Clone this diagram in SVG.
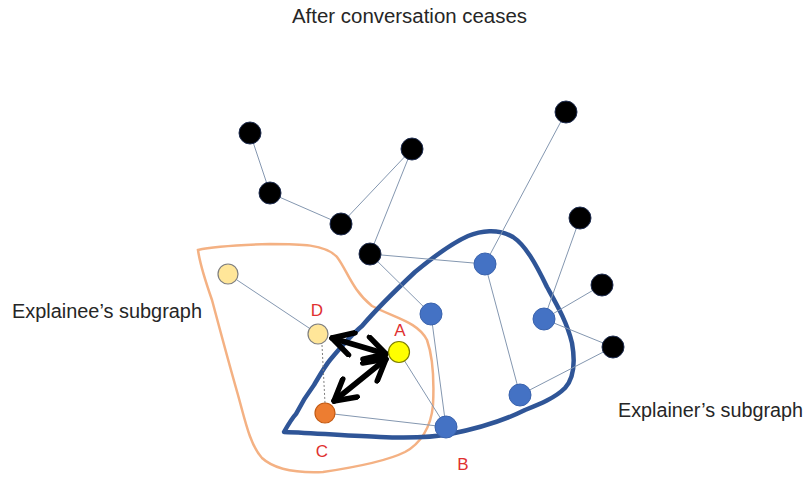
<svg xmlns="http://www.w3.org/2000/svg" width="812" height="477" viewBox="0 0 812 477">
  <style>
    .edge { stroke: #8497B0; stroke-width: 1; fill: none; }
    .dot { stroke: #7F7F7F; stroke-width: 1; stroke-dasharray: 2 2; fill: none; }
    .black { fill: #000000; stroke: #1F2D50; stroke-width: 1; }
    .blue { fill: #4472C4; stroke: #3A63AD; stroke-width: 1; }
    .pale { fill: #FFE699; stroke: #7F7F7F; stroke-width: 1.2; }
    .yellow { fill: #FFFF00; stroke: #7F7F00; stroke-width: 1.2; }
    .orange { fill: #ED7D31; stroke: #C55A11; stroke-width: 1.2; }
    .caption { font-family: "Liberation Sans", Arial, sans-serif; font-size: 20px; fill: #262626; }
    .label { font-family: "Liberation Sans", Arial, sans-serif; font-size: 17px; fill: #E03030; text-anchor: middle; }
    .arrow { stroke: #000000; stroke-width: 5.5; fill: none; stroke-linecap: round; marker-start: url(#head); marker-end: url(#head); }
  </style>
  <defs>
    <marker id="head" viewBox="0 0 10 10" refX="9" refY="5" markerWidth="5" markerHeight="5" orient="auto-start-reverse" markerUnits="strokeWidth">
      <path d="M1.5,0.8 L9,5 L1.5,9.2" fill="none" stroke="#000000" stroke-width="2" stroke-linecap="round" stroke-linejoin="round"/>
    </marker>
  </defs>

  <rect width="812" height="477" fill="#FFFFFF"/>

  <text class="caption" x="292" y="23" textLength="235" lengthAdjust="spacingAndGlyphs">After conversation ceases</text>
  <text class="caption" x="12" y="318" textLength="190" lengthAdjust="spacingAndGlyphs">Explainee’s subgraph</text>
  <text class="caption" x="618" y="417" textLength="185" lengthAdjust="spacingAndGlyphs">Explainer’s subgraph</text>

  <!-- subgraph outlines -->
  <g id="explainee-region">
    <path d="M198,250 C215,246 240,245 270,244 C300,244 325,244 337,257 C347,270 352,290 372,306 C395,318 418,322 427,340 C434,360 434,385 433,405 C431,428 420,444 405,452 C385,462 350,468 323,472 C300,473 275,470 262,458 C250,445 245,420 238,395 C228,360 220,330 212,300 C205,280 200,265 198,250 Z" fill="none" stroke="#F4B183" stroke-width="2.5"/>
  </g>
  <g id="explainer-region">
    <path d="M284,432 C288,425 292,418 296,414 C302,402 308,393 314,385 C320,375 325,366 330,360 C340,348 350,336 362,326 C380,305 398,288 415,272 C432,258 450,244 468,236 C480,231 498,228 513,237 C525,245 535,262 547,287 C557,305 567,322 572,343 C575,360 574,378 565,388 C555,398 540,404 525,410 C505,420 480,428 450,434 C430,438 405,438 380,437 C350,436 315,433 284,432 Z" fill="none" stroke="#2F5597" stroke-width="4.5" stroke-linejoin="round"/>
  </g>

  <!-- connectors -->
  <g id="connectors">
    <line class="edge" x1="250" y1="133" x2="270" y2="193"/>
    <line class="edge" x1="270" y1="193" x2="341" y2="224"/>
    <line class="edge" x1="341" y1="224" x2="412" y2="149"/>
    <line class="edge" x1="412" y1="149" x2="370" y2="254"/>
    <line class="edge" x1="370" y1="254" x2="485" y2="264"/>
    <line class="edge" x1="370" y1="254" x2="431" y2="314"/>
    <line class="edge" x1="485" y1="264" x2="566" y2="112"/>
    <line class="edge" x1="485" y1="264" x2="520" y2="395"/>
    <line class="edge" x1="580" y1="218" x2="544" y2="319"/>
    <line class="edge" x1="602" y1="285" x2="544" y2="319"/>
    <line class="edge" x1="544" y1="319" x2="613" y2="347"/>
    <line class="edge" x1="520" y1="395" x2="613" y2="347"/>
    <line class="edge" x1="431" y1="314" x2="446" y2="427"/>
    <line class="edge" x1="399" y1="352" x2="446" y2="427"/>
    <line class="edge" x1="325" y1="413" x2="446" y2="427"/>
    <line class="edge" x1="228" y1="274" x2="318" y2="334"/>
    <line class="dot" x1="322" y1="345" x2="325" y2="403"/>
    <line class="arrow" x1="332" y1="338" x2="386" y2="354"/>
    <line class="arrow" x1="386" y1="359" x2="334" y2="401"/>
  </g>

  <!-- nodes -->
  <g id="n1"><circle class="black" cx="250" cy="133" r="11"/></g>
  <g id="n2"><circle class="black" cx="270" cy="193" r="11"/></g>
  <g id="n3"><circle class="black" cx="341" cy="224" r="11"/></g>
  <g id="n4"><circle class="black" cx="412" cy="149" r="11"/></g>
  <g id="n5"><circle class="black" cx="370" cy="254" r="11"/></g>
  <g id="n6"><circle class="black" cx="566" cy="112" r="11"/></g>
  <g id="n7"><circle class="black" cx="580" cy="218" r="11"/></g>
  <g id="n8"><circle class="black" cx="602" cy="285" r="11"/></g>
  <g id="n9"><circle class="black" cx="613" cy="347" r="11"/></g>
  <g id="b1"><circle class="blue" cx="485" cy="264" r="11"/></g>
  <g id="b2"><circle class="blue" cx="431" cy="314" r="11"/></g>
  <g id="b3"><circle class="blue" cx="544" cy="319" r="11"/></g>
  <g id="b4"><circle class="blue" cx="520" cy="395" r="11"/></g>
  <g id="node-b"><circle class="blue" cx="446" cy="427" r="11"/><text class="label" x="463" y="470">B</text></g>
  <g id="node-a"><circle class="yellow" cx="399" cy="352" r="10.5"/><text class="label" x="400" y="336">A</text></g>
  <g id="node-d"><circle class="pale" cx="318" cy="334" r="10"/><text class="label" x="317" y="316">D</text></g>
  <g id="node-c"><circle class="orange" cx="325" cy="413" r="10"/><text class="label" x="322" y="457">C</text></g>
  <g id="p1"><circle class="pale" cx="228" cy="274" r="10"/></g>
</svg>
